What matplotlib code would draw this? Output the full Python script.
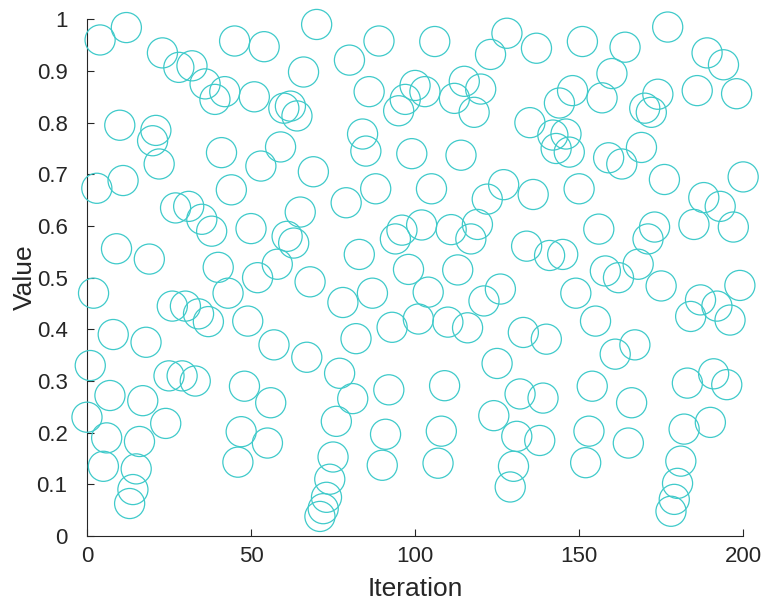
import numpy as np
import matplotlib.pyplot as plt

# sequence values, one per iteration (0..200)
values = [
    0.230, 0.330, 0.470, 0.673, 0.960, 0.135, 0.190, 0.272, 0.390, 0.556,
    0.795, 0.688, 0.984, 0.063, 0.090, 0.130, 0.183, 0.262, 0.375, 0.536,
    0.765, 0.785, 0.720, 0.935, 0.218, 0.310, 0.445, 0.635, 0.907, 0.310,
    0.445, 0.638, 0.910, 0.300, 0.430, 0.613, 0.875, 0.415, 0.590, 0.845,
    0.520, 0.742, 0.860, 0.470, 0.670, 0.958, 0.143, 0.202, 0.290, 0.416,
    0.595, 0.850, 0.500, 0.716, 0.947, 0.180, 0.258, 0.370, 0.526, 0.753,
    0.828, 0.580, 0.832, 0.567, 0.813, 0.627, 0.898, 0.346, 0.492, 0.705,
    0.990, 0.038, 0.053, 0.075, 0.110, 0.153, 0.222, 0.315, 0.452, 0.645,
    0.921, 0.266, 0.382, 0.545, 0.778, 0.745, 0.860, 0.470, 0.672, 0.958,
    0.137, 0.197, 0.283, 0.404, 0.575, 0.823, 0.592, 0.845, 0.516, 0.740,
    0.872, 0.420, 0.602, 0.860, 0.472, 0.672, 0.957, 0.141, 0.203, 0.291,
    0.414, 0.593, 0.847, 0.515, 0.737, 0.880, 0.403, 0.575, 0.820, 0.603,
    0.865, 0.455, 0.652, 0.932, 0.233, 0.334, 0.478, 0.680, 0.973, 0.095,
    0.135, 0.193, 0.275, 0.394, 0.561, 0.800, 0.661, 0.944, 0.185, 0.267,
    0.381, 0.543, 0.776, 0.750, 0.838, 0.545, 0.778, 0.743, 0.862, 0.470,
    0.672, 0.957, 0.142, 0.203, 0.290, 0.416, 0.594, 0.848, 0.513, 0.732,
    0.895, 0.352, 0.500, 0.720, 0.946, 0.180, 0.258, 0.370, 0.526, 0.752,
    0.828, 0.575, 0.820, 0.598, 0.855, 0.484, 0.690, 0.985, 0.048, 0.071,
    0.102, 0.145, 0.207, 0.296, 0.425, 0.603, 0.862, 0.457, 0.655, 0.935,
    0.220, 0.314, 0.445, 0.638, 0.912, 0.293, 0.418, 0.598, 0.856, 0.485,
    0.695,
]
iterations = np.arange(len(values))

x_ticks = [0, 50, 100, 150, 200]
y_ticks = [0, 0.1, 0.2, 0.3, 0.4, 0.5, 0.6, 0.7, 0.8, 0.9, 1]
y_ticklabels = ['0', '0.1', '0.2', '0.3', '0.4', '0.5', '0.6', '0.7', '0.8', '0.9', '1']

plt.rcParams['font.family'] = ['Liberation Sans', 'DejaVu Sans']

fig = plt.figure(figsize=(7.63, 6.03), dpi=100)
ax = fig.add_axes([0.114, 0.111, 0.860, 0.857])

ax.scatter(iterations, values, s=470, facecolors='none',
           edgecolors='#3fcaca', linewidths=0.9, clip_on=False, zorder=3)

ax.set_xlim(0, 200)
ax.set_ylim(0, 1)
ax.set_xticks(x_ticks)
ax.set_yticks(y_ticks)
ax.set_yticklabels(y_ticklabels)

axis_color = '#262626'
for side in ['top', 'right']:
    ax.spines[side].set_visible(False)
for side in ['left', 'bottom']:
    ax.spines[side].set_color(axis_color)
    ax.spines[side].set_linewidth(0.8)
ax.tick_params(direction='in', length=5, width=0.8, colors=axis_color,
               labelsize=16, pad=7)
ax.tick_params(axis='y', pad=14)

ax.set_xlabel('Iteration', fontsize=19, color=axis_color, labelpad=7)
ax.set_ylabel('Value', fontsize=19, color=axis_color, labelpad=0)

fig.savefig('out.png', dpi=100)
